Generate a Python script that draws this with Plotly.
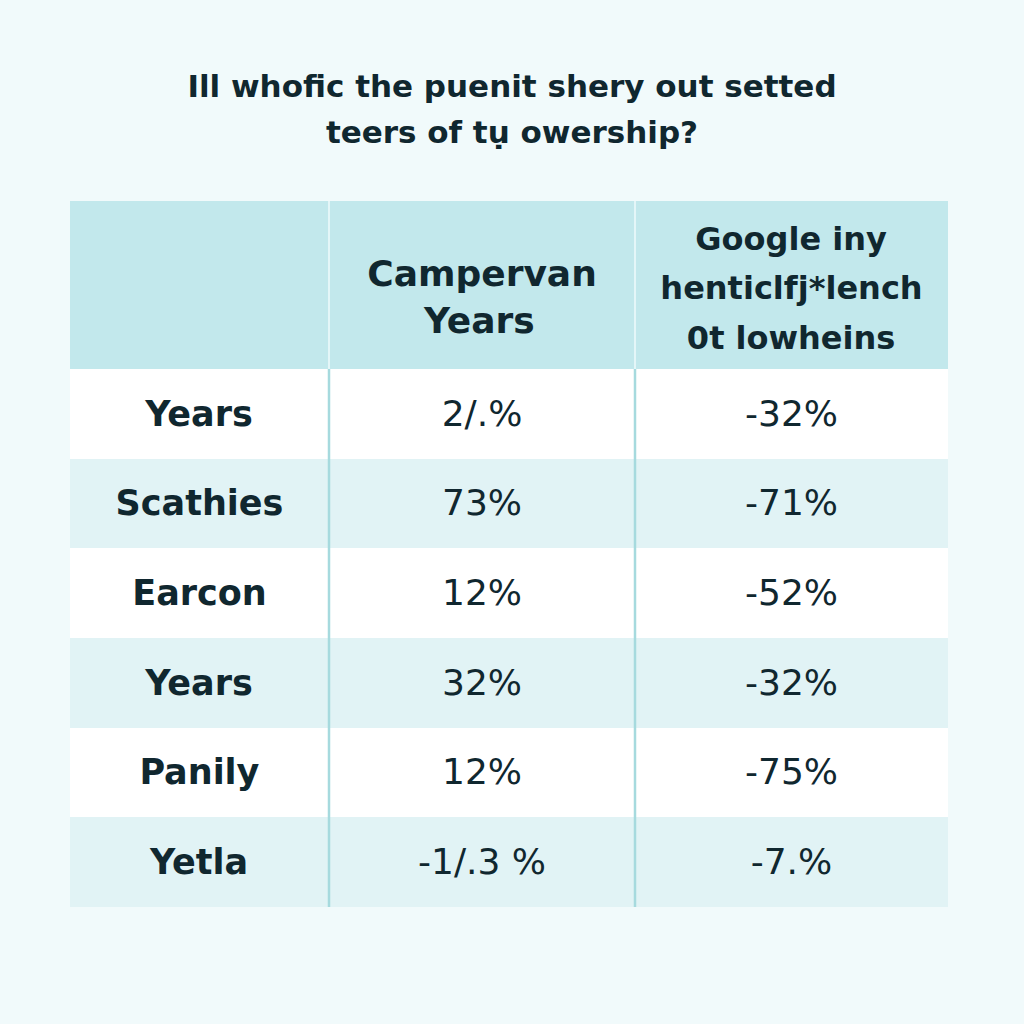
import math
import plotly.graph_objects as go

title_lines = ["Ill whofic the puenit shery out setted", "teers of tụ owership?"]
header_labels = ["", "Campervan<br>Years", "Google iny<br>henticlfj*lench<br>0t lowheins"]
row_labels = ["Years", "Scathies", "Earcon", "Years", "Panily", "Yetla"]
campervan_vals = ["2/.%", "73%", "12%", "32%", "12%", "-1/.3 %"]
google_vals = ["-32%", "-71%", "-52%", "-32%", "-75%", "-7.%"]

BG = "#f1fafb"
HEAD = "#c2e8ec"
STRIPE = "#e1f3f5"
WHITE = "#ffffff"
LINE = "#a6dade"
HEAD_LINE = "#e4f6f8"
INK = "#10272f"
FONT = "DejaVu Sans"

W = H = 1024
x0, x1 = 70, 948
y0, y1 = 201, 907
col_w = [259, 306, 313]
HEAD_H = 168
ROW_H = (y1 - y0 - HEAD_H) / len(row_labels)
CELL_PAD = 8          # plotly table inner padding
ASC = 0.928           # DejaVu Sans ascent (em)
NBSP = 0.318          # DejaVu Sans (regular) no-break space advance (em)
LS = 1.3              # plotly line spacing (em)

# DejaVu Sans Bold advance widths (units per em = 2048), used to centre each
# header line inside plotly's left-aligned multi-line block
BOLD_ADV = {" ": 713, "a": 1382, "c": 1214, "e": 1389, "f": 891, "g": 1466,
            "h": 1458, "i": 702, "j": 702, "l": 702, "m": 2134, "n": 1458,
            "o": 1407, "p": 1466, "r": 1010, "s": 1219, "t": 979, "v": 1335,
            "w": 1892, "y": 1335, "C": 1503, "G": 1685, "Y": 1585, "0": 1425,
            "*": 1024}


def bold_width(text, size):
    return sum(BOLD_ADV.get(ch, 1300) for ch in text) / 2048 * size


def space(width, max_size):
    """run of no-break spaces that is `width` px wide, font no larger than max_size"""
    if width <= 0.3:
        return ""
    k = max(1, math.ceil(width / (NBSP * max_size)))
    fs = width / (k * NBSP)
    return "<span style='font-size:%.2fpx'>%s</span>" % (fs, "&nbsp;" * k)


def lift(size):
    # tall invisible spacer: places the first baseline at CELL_PAD + ASC*size
    return "<span style='font-size:%.2fpx'>&nbsp;</span>" % size


def header_cell(text, base, size, first_baseline):
    if not text:
        return ""
    lines = text.split("<br>")
    widths = [bold_width(l, size) for l in lines]
    S = (first_baseline - CELL_PAD) / ASC
    v = NBSP * S
    C = max([v + widths[0] / 2] + [w / 2 for w in widths[1:]])
    wrap = (lambda l: "<b>%s</b>" % l) if size == base else \
        (lambda l: "<b><span style='font-size:%dpx'>%s</span></b>" % (size, l))
    extra = space(C - widths[0] / 2 - v, base)
    out = [lift(S) + extra + wrap(lines[0]) + extra + lift(S)]
    for l, w in zip(lines[1:], widths[1:]):
        out.append(space(C - w / 2, base) + wrap(l))
    return "<br>".join(out)


def body_cell(text, base, baseline, bold=False):
    # one tiny spacer line, then the value, so that the value sits mid-row
    X = max((baseline - CELL_PAD - LS * base) / ASC, 1)
    t = "<b>%s</b>" % text if bold else text
    return lift(X) + "<br>" + t


row_fill = [WHITE if i % 2 == 0 else STRIPE for i in range(len(row_labels))]
VAL_SIZE = 36
LAB_SIZE = 35
BASELINE = 57

fig = go.Figure(go.Table(
    domain=dict(x=[x0 / W, x1 / W], y=[1 - y1 / H, 1 - y0 / H]),
    columnwidth=col_w,
    header=dict(
        values=["",
                header_cell(header_labels[1], 36, 36, 85),
                header_cell(header_labels[2], 38, 32, 49)],
        fill_color=HEAD,
        line=dict(width=0, color=HEAD),
        align="center",
        height=HEAD_H,
        font=dict(family=FONT, size=[36, 36, 38], color=INK),
    ),
    cells=dict(
        values=[[body_cell(r, LAB_SIZE, BASELINE, True) for r in row_labels],
                [body_cell(v, VAL_SIZE, BASELINE) for v in campervan_vals],
                [body_cell(v, VAL_SIZE, BASELINE) for v in google_vals]],
        fill_color=[row_fill, row_fill, row_fill],
        line=dict(width=0, color=WHITE),
        align="center",
        height=ROW_H,
        font=dict(family=FONT, size=[LAB_SIZE, VAL_SIZE, VAL_SIZE], color=INK),
    ),
))

# column separators: pale in the header, teal in the body
shapes = []
cx = x0
yh = y0 + HEAD_H
for w in col_w[:-1]:
    cx += w
    shapes.append(dict(type="line", xref="paper", yref="paper",
                       x0=cx / W, x1=cx / W, y0=1 - yh / H, y1=1 - y0 / H,
                       line=dict(color=HEAD_LINE, width=2), layer="above"))
    shapes.append(dict(type="line", xref="paper", yref="paper",
                       x0=cx / W, x1=cx / W, y0=1 - y1 / H, y1=1 - yh / H,
                       line=dict(color=LINE, width=2.5), layer="above"))

title_text = "<br>".join("<b><span style='font-size:31px'>%s</span></b>" % l for l in title_lines)

fig.update_layout(
    width=W, height=H,
    margin=dict(l=0, r=0, t=0, b=0),
    paper_bgcolor=BG, plot_bgcolor=BG,
    shapes=shapes,
    title=dict(text=title_text, x=0.5, xanchor="center",
               y=1 - 97 / H, yanchor="top",
               font=dict(family=FONT, size=35, color=INK)),
)

fig.write_html(
    "out.html",
    config={"displayModeBar": False},
    post_script="document.body.style.margin='0';document.body.style.background='%s';"
                "document.documentElement.style.overflow='hidden';" % BG,
)
